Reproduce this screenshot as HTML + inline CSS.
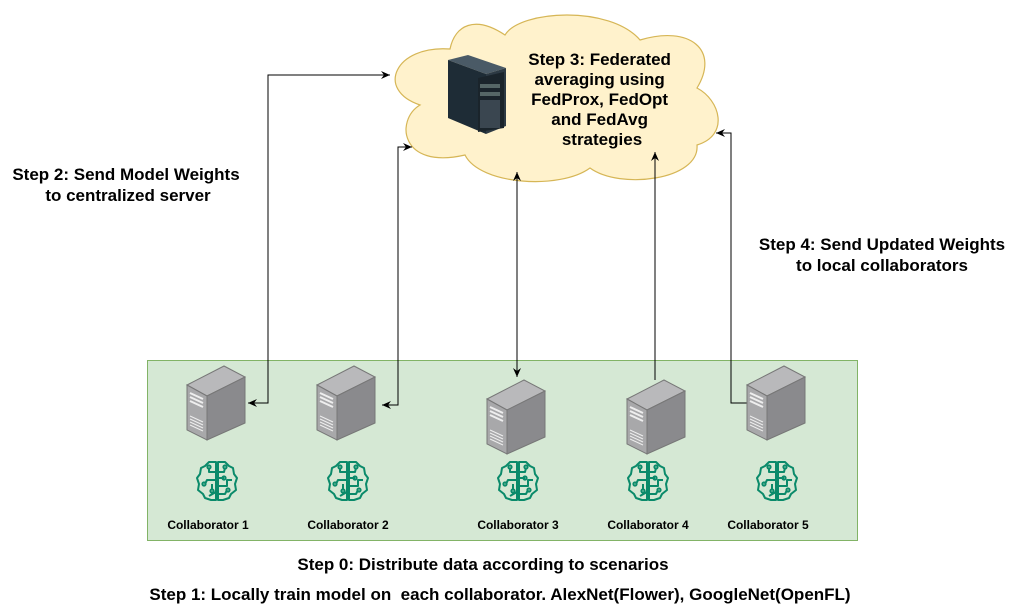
<!DOCTYPE html>
<html><head><meta charset="utf-8"><style>
body{margin:0;background:#fff;}
svg{display:block;font-family:"Liberation Sans",Arial,sans-serif;}
</style></head><body>
<svg width="1018" height="611" viewBox="0 0 1018 611" xmlns="http://www.w3.org/2000/svg">
<defs>
<marker id="ar" markerWidth="10" markerHeight="10" refX="9" refY="5" orient="auto-start-reverse" markerUnits="userSpaceOnUse">
<path d="M0,1 L9,5 L0,9 L3,5 Z" fill="#000"/>
</marker>
<g id="srv">
<path d="M0,19 L37,0 L58,11 L20,30 Z" fill="#b9b9bb" stroke="#777" stroke-width="1"/>
<path d="M20,30 L58,11 L58,57 L20,74 Z" fill="#8a8a8d" stroke="#777" stroke-width="1"/>
<path d="M0,19 L20,30 L20,74 L0,64 Z" fill="#a8a8aa" stroke="#777" stroke-width="1"/>
<path d="M3,27 L16,33 M3,31 L16,37 M3,35 L16,41" stroke="#eee" stroke-width="2"/>
<path d="M3,50 L16,56 M3,53 L16,59 M3,56 L16,62 M3,59 L16,65" stroke="#eee" stroke-width="1"/>
</g>
<g id="brain" fill="none" stroke="#0a8a6a" stroke-width="2" stroke-linejoin="round">
<path d="M19,2 L12,2 L8,6 L4,8 L3,14 L0,18 L2,24 L1,30 L6,34 L8,38 L14,40 L19,40 Z"/>
<path d="M21,2 L28,2 L32,6 L36,8 L37,14 L40,18 L38,24 L39,30 L34,34 L32,38 L26,40 L21,40 Z"/>
<path d="M19,12 L12,12 L12,8 M19,20 L10,20 L8,24 M15,24 L15,30 M19,32 L12,36 M21,12 L27,12 L28,8 M21,18 L27,18 M21,26 L30,26 L30,20 L35,20 M21,34 L28,34 L30,30"/>
<circle cx="12" cy="7" r="1.6"/><circle cx="7" cy="24" r="1.6"/><circle cx="15" cy="31" r="1.6"/><circle cx="28" cy="7" r="1.6"/><circle cx="27" cy="18" r="1.6"/><circle cx="31" cy="30" r="1.6"/>
</g>
</defs>

<rect x="147.5" y="360.5" width="710" height="180" fill="#d5e8d4" stroke="#82b366"/>

<path d="M450,49 C395,45 375,90 420,105 C395,120 400,170 465,155 C480,185 560,190 590,168 C620,190 700,180 697,145 C730,135 720,100 697,88 C720,50 690,25 640,40 C610,5 520,10 505,35 C475,15 455,25 450,49 Z" fill="#fff2cc" stroke="#d6b656" stroke-width="1.2"/>

<g>
<path d="M448,60 L468,55 L506,68 L486,74 Z" fill="#4a5a66"/>
<path d="M448,60 L486,74 L486,134 L448,118 Z" fill="#1e2c36"/>
<path d="M486,74 L506,68 L506,126 L486,134 Z" fill="#2d3a44"/>
<path d="M478,78 L504,72 L504,128 L478,132 Z" fill="#1a242b"/>
<rect x="480" y="84" width="20" height="4" fill="#566"/>
<rect x="480" y="92" width="20" height="4" fill="#566"/>
<rect x="480" y="100" width="20" height="28" fill="#3a4650"/>
</g>
<text font-size="17" font-weight="bold" text-anchor="middle" fill="#000">
<tspan x="602" y="65">Step 3: Federated</tspan>
<tspan x="602" y="85">averaging using</tspan>
<tspan x="602" y="105">FedProx, FedOpt</tspan>
<tspan x="602" y="125">and FedAvg</tspan>
<tspan x="602" y="145">strategies</tspan>
</text>

<g fill="none" stroke="#000" stroke-width="1">
<path d="M248,403 L268,403 L268,75 L390,75" marker-start="url(#ar)" marker-end="url(#ar)"/>
<path d="M382,405 L398,405 L398,147 L412,147" marker-start="url(#ar)" marker-end="url(#ar)"/>
<path d="M517,172 L517,377" marker-start="url(#ar)" marker-end="url(#ar)"/>
<path d="M655,380 L655,152" marker-end="url(#ar)"/>
<path d="M747,403 L731,403 L731,133 L716,133" marker-end="url(#ar)"/>
</g>

<use href="#srv" x="187" y="366"/>
<use href="#srv" x="317" y="366"/>
<use href="#srv" x="487" y="380"/>
<use href="#srv" x="627" y="380"/>
<use href="#srv" x="747" y="366"/>

<use href="#brain" x="197" y="460"/>
<use href="#brain" x="328" y="460"/>
<use href="#brain" x="498" y="460"/>
<use href="#brain" x="628" y="460"/>
<use href="#brain" x="757" y="460"/>

<g font-size="12" font-weight="bold" text-anchor="middle" fill="#000">
<text x="208" y="529">Collaborator 1</text>
<text x="348" y="529">Collaborator 2</text>
<text x="518" y="529">Collaborator 3</text>
<text x="648" y="529">Collaborator 4</text>
<text x="768" y="529">Collaborator 5</text>
</g>

<g font-size="17" font-weight="bold" text-anchor="middle" fill="#000">
<text x="126" y="180">Step 2: Send Model Weights</text>
<text x="128" y="201">to centralized server</text>
<text x="882" y="250">Step 4: Send Updated Weights</text>
<text x="882" y="271">to local collaborators</text>
<text x="483" y="570">Step 0: Distribute data according to scenarios</text>
<text x="500" y="600">Step 1: Locally train model on &#160;each collaborator. AlexNet(Flower), GoogleNet(OpenFL)</text>
</g>
</svg>
</body></html>
